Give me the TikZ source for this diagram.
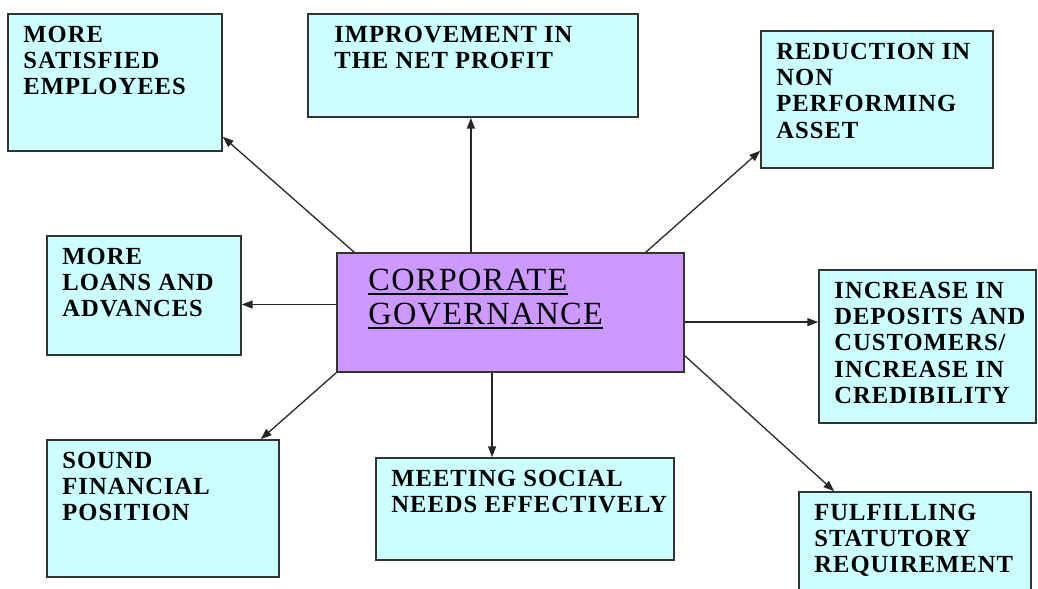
\documentclass[tikz,border=0pt]{standalone}
\usepackage{fontspec}
\setmainfont{Liberation Serif}
\newfontfamily\tagfont[LetterSpace=4]{Liberation Serif}
\usetikzlibrary{arrows.meta}
\definecolor{BoxLine}{HTML}{333333}
\definecolor{PaleCyan}{HTML}{CCFFFF}
\definecolor{Lilac}{HTML}{CC99FF}
% thick underline for the centre title
\newcommand{\ulbar}[1]{\leavevmode\setbox0\hbox{#1}\rlap{\rule[-3.2pt]{\wd0}{1.4pt}}\box0}

\tikzset{
  outcome/.style={draw=BoxLine,fill=PaleCyan,line width=0.04cm,inner sep=0pt},
  hub/.style={draw=BoxLine,fill=Lilac,line width=0.04cm,inner sep=0pt},
  boxtext/.style={anchor=north west,align=left,inner sep=0pt,xshift=0.4cm,yshift=-0.31cm,
    font=\tagfont\fontsize{17.5}{18.7}\selectfont\bfseries},
  hubtext/.style={anchor=north west,align=left,inner sep=0pt,xshift=0.8cm,yshift=-0.42cm,
    font=\tagfont\fontsize{23}{24}\selectfont},
  link/.style={->,line width=0.032cm,draw=black!85}
}

\begin{document}
\begin{tikzpicture}[x=0.025cm,y=-0.025cm,>={Triangle[length=0.27cm,width=0.2cm]}]
  \useasboundingbox (0,0) rectangle (1038,589);
  \clip (0,0) rectangle (1038,589);
  % centre box
  \node[hub,minimum width=8.675cm,minimum height=2.975cm,
    label={[hubtext]north west:{\ulbar{CORPORATE}\\\ulbar{GOVERNANCE}}}] (cg) at (510.5,312.5) {};
  % outcomes round it
  \node[outcome,minimum width=5.35cm,minimum height=3.425cm,
    label={[boxtext]north west:{MORE\\SATISFIED\\EMPLOYEES}}] (staff) at (115,82.5) {};
  \node[outcome,minimum width=8.25cm,minimum height=2.575cm,
    label={[boxtext,xshift=0.275cm]north west:{IMPROVEMENT IN\\THE NET PROFIT}}] (profit) at (473,65.5) {};
  \node[outcome,minimum width=5.8cm,minimum height=3.425cm,
    label={[boxtext]north west:{REDUCTION IN\\NON\\PERFORMING\\ASSET}}] (npa) at (877,99.5) {};
  \node[outcome,minimum width=4.85cm,minimum height=2.975cm,
    label={[boxtext]north west:{MORE\\LOANS AND\\ADVANCES}}] (loans) at (144,295.5) {};
  \node[outcome,minimum width=5.425cm,minimum height=3.825cm,
    label={[boxtext]north west:{INCREASE IN\\DEPOSITS AND\\CUSTOMERS/\\INCREASE IN\\CREDIBILITY}}] (deposits) at (927.5,346.5) {};
  \node[outcome,minimum width=5.8cm,minimum height=3.425cm,
    label={[boxtext]north west:{SOUND\\FINANCIAL\\POSITION}}] (sound) at (163,508.5) {};
  \node[outcome,minimum width=7.45cm,minimum height=2.55cm,
    label={[boxtext]north west:{MEETING SOCIAL\\NEEDS EFFECTIVELY}}] (social) at (525,509) {};
  \node[outcome,minimum width=5.8cm,minimum height=3.425cm,
    label={[boxtext]north west:{FULFILLING\\STATUTORY\\REQUIREMENT}}] (statutory) at (915,560.5) {};
  % arrows out of the centre
  \draw[link] ([xshift=0.45cm]cg.north west) -- ([yshift=0.375cm]staff.south east);
  \draw[link] ([xshift=-0.99cm]cg.north) -- ([xshift=-0.99cm]cg.north |- profit.south);
  \draw[link] ([xshift=-0.975cm]cg.north east) -- ([yshift=0.45cm]npa.south west);
  \draw[link] ([yshift=0.2cm]cg.west) -- ([yshift=0.2cm]cg.west -| loans.east);
  \draw[link] ([yshift=-0.24cm]cg.east) -- ([yshift=-0.24cm]cg.east -| deposits.west);
  \draw[link] (cg.south west) -- ([xshift=-0.475cm]sound.north east);
  \draw[link] ([xshift=-0.46cm]cg.south) -- ([xshift=-0.46cm]cg.south |- social.north);
  \draw[link] ([yshift=0.425cm]cg.south east) -- ([xshift=0.9cm]statutory.north west);
\end{tikzpicture}
\end{document}
